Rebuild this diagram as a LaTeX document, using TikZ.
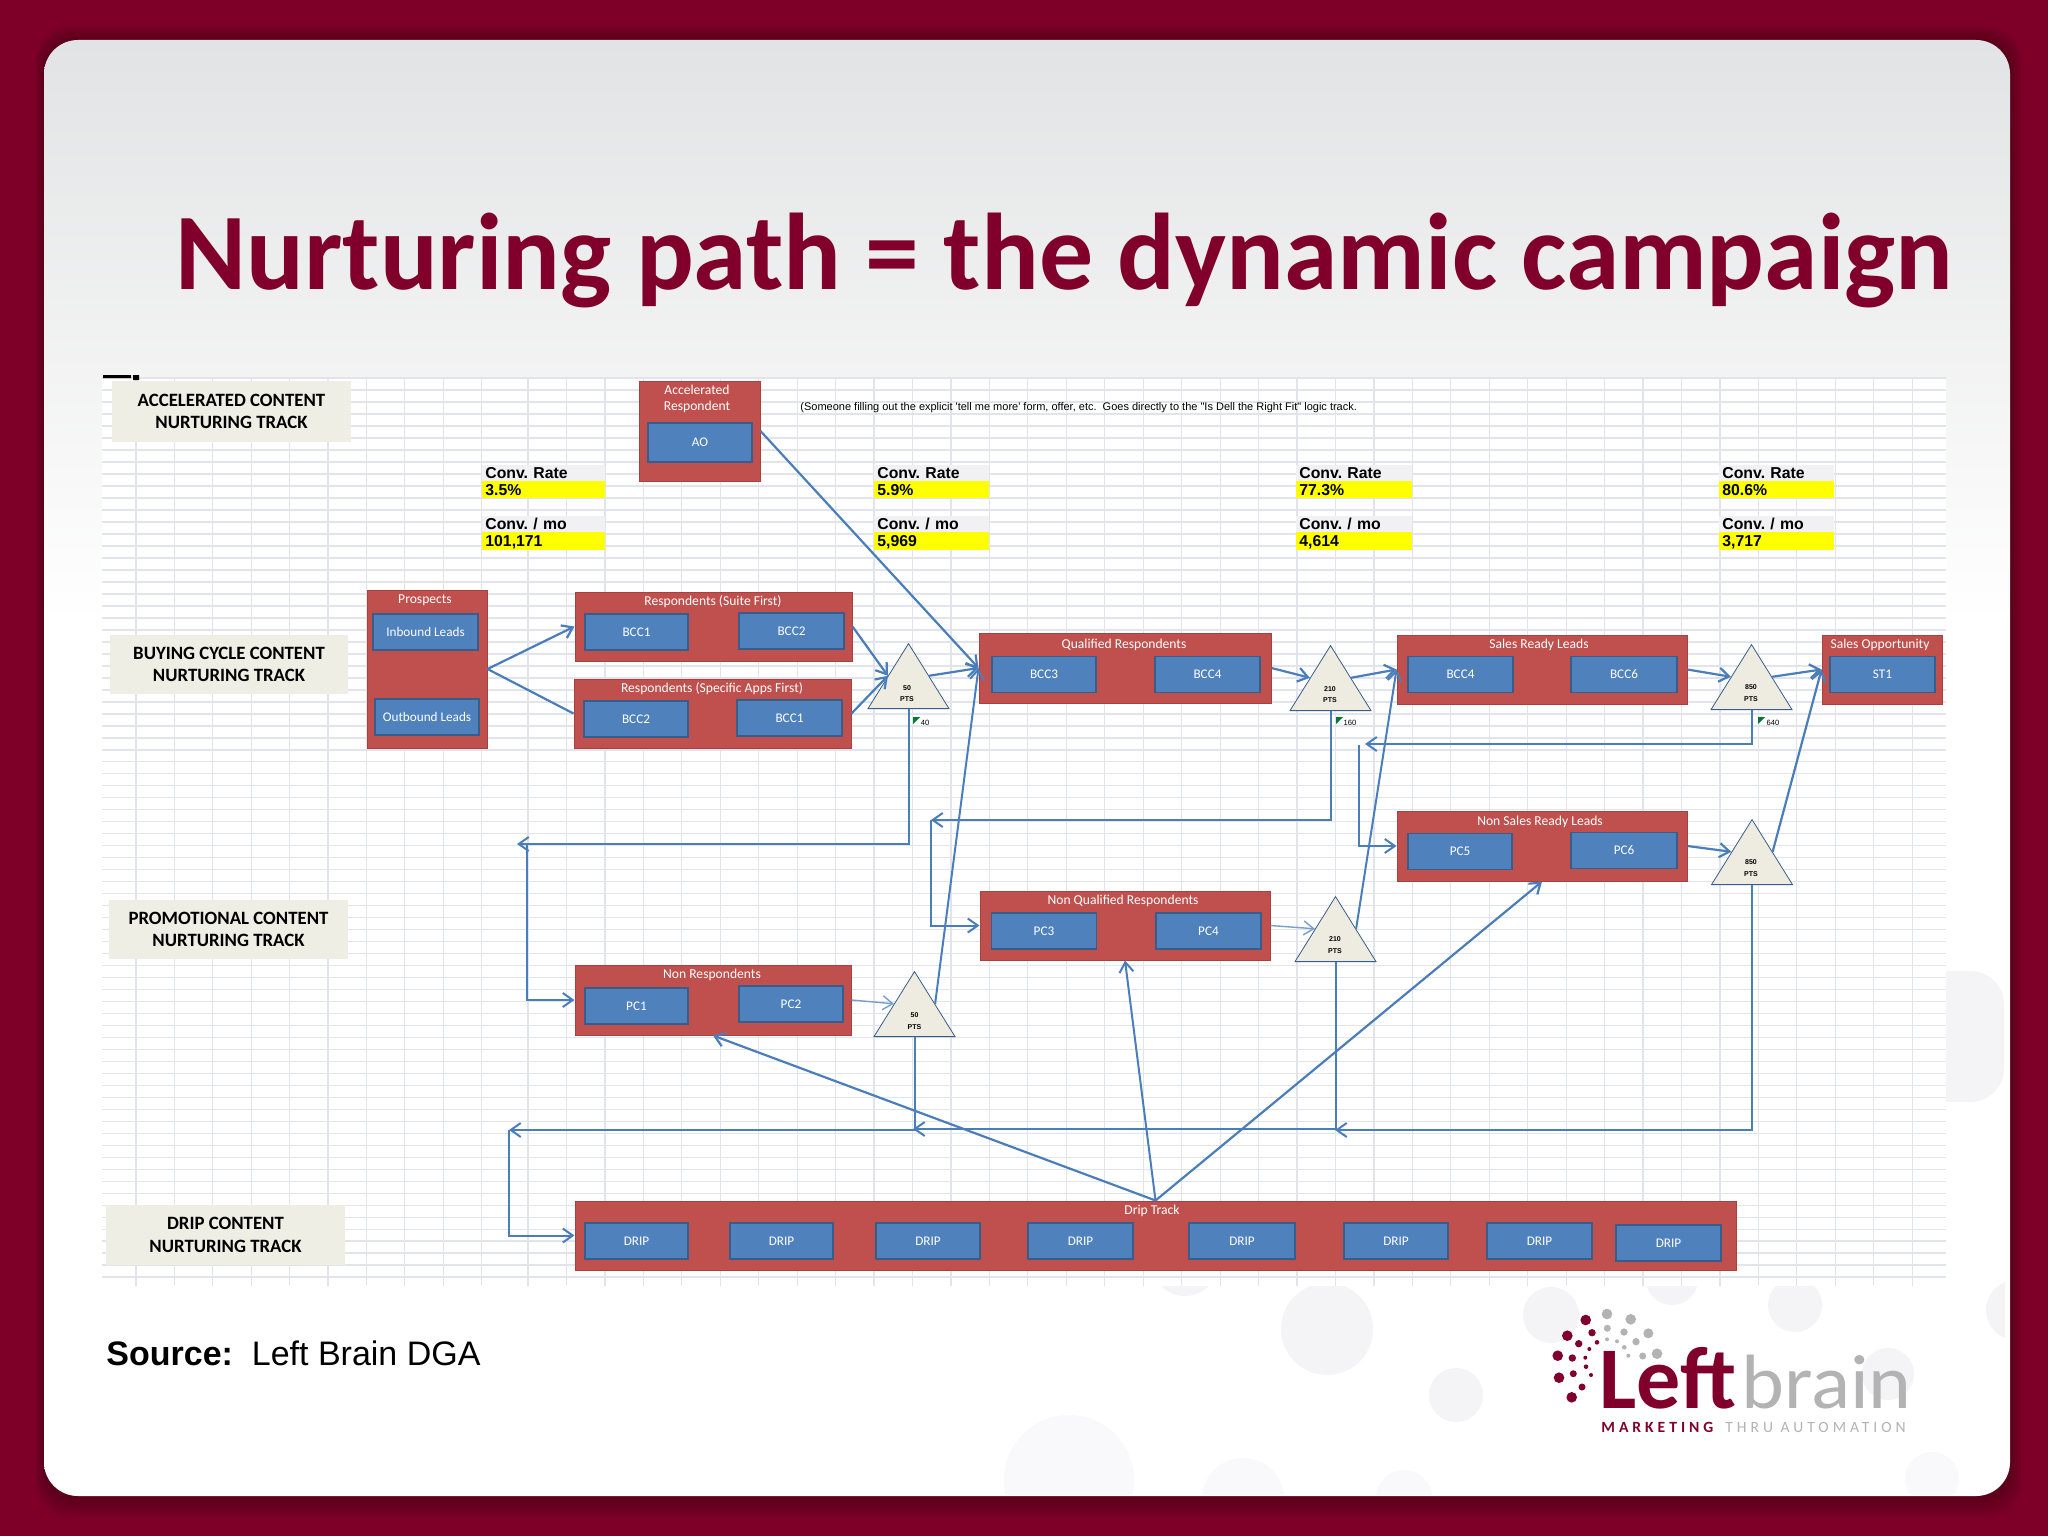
\documentclass[tikz,border=0pt]{standalone}
\usepackage{fontspec}
\setmainfont{Carlito}
\newfontfamily\arialfont{Liberation Sans}
\usetikzlibrary{arrows.meta,shapes.geometric}
\definecolor{slidebg}{HTML}{7E0029}
\definecolor{titlered}{HTML}{80002B}
\definecolor{panelgray}{HTML}{E2E3E4}
\definecolor{blobgray}{HTML}{F4F3F5}
\definecolor{blobpale}{HTML}{F9F8FA}
\definecolor{gridgray}{HTML}{E2E4EC}
\definecolor{trackfill}{HTML}{EEEEE4}
\definecolor{redfill}{HTML}{C0504D}
\definecolor{redline}{HTML}{A9403D}
\definecolor{bluefill}{HTML}{4F81BD}
\definecolor{blueline}{HTML}{385D8A}
\definecolor{flowblue}{HTML}{4A7EBB}
\definecolor{trifill}{HTML}{EEECE1}
\definecolor{convgray}{HTML}{F1F1F3}
\definecolor{convyellow}{HTML}{FFFF00}
\definecolor{markgreen}{HTML}{007A33}
\definecolor{logogray}{HTML}{B3B3B3}
\pgfdeclareverticalshading{panelshade}{100bp}{color(0bp)=(white); color(55bp)=(white); color(75bp)=(panelgray); color(100bp)=(panelgray)}
\tikzset{
    wh/.style 2 args={minimum width=#1*0.5pt,minimum height=#2*0.5pt},
    redbox/.style={draw=redline,fill=redfill,line width=0.5pt,inner sep=0pt},
    bluebox/.style={draw=blueline,fill=bluefill,line width=0.7pt,inner sep=0pt,text=white,font=\fontsize{6.6pt}{8pt}\selectfont},
    boxtitle/.style={text=white,inner sep=0pt,align=center,font=\fontsize{6.8pt}{8pt}\selectfont},
    trackbox/.style={fill=trackfill,inner sep=0pt,align=center,font=\bfseries\fontsize{9.4pt}{11.2pt}\selectfont},
    ptstri/.style={draw=blueline,fill=trifill,line width=0.4pt,shape=isosceles triangle,shape border rotate=90,
        isosceles triangle stretches,minimum height=32.5pt,minimum width=40.5pt,inner sep=0pt,anchor=lower side},
    ptstext/.style={inner sep=0pt,align=center,font=\arialfont\bfseries\fontsize{3.5pt}{5.8pt}\selectfont},
    smalltext/.style={inner sep=0pt,font=\arialfont\fontsize{3.8pt}{4pt}\selectfont},
    notetext/.style={inner sep=0pt,font=\arialfont\fontsize{5.5pt}{6pt}\selectfont},
    convhead/.style={fill=convgray,anchor=west,inner xsep=1.5pt,inner ysep=0pt,text width=#1,minimum height=8pt,text depth=0pt,font=\arialfont\bfseries\frenchspacing\fontsize{7.9pt}{8pt}\selectfont},
    convvalue/.style={convhead=#1,fill=convyellow,minimum height=8.7pt},
    flow/.style={draw=flowblue,line width=1.1pt},
    retflow/.style={draw=flowblue,line width=1pt},
    thinflow/.style={draw=flowblue!75!white,line width=0.7pt},
}
\begin{document}
\begin{tikzpicture}[x=0.5pt,y=-0.5pt,>={Straight Barb[length=5pt,width=7pt]}]
        %% Slide
        \fill[slidebg] (0,0) rectangle (2048,1536);
        \useasboundingbox (0,0) rectangle (2048,1536);
        \foreach \s in {0,...,7}
            \fill[black,opacity=0.04,rounded corners=17pt] (44-\s*1.3,40-\s*2) rectangle (2010+\s*1.8,1496+\s*3.2);
        \shade[shading=panelshade,rounded corners=17pt] (44,40) rectangle (2010,1496);
        %% Faint circles
        \begin{scope}
            \clip[rounded corners=17pt] (44,40) rectangle (2005,1495);
            \fill[blobgray] (1185,1263) circle (33) (1327,1329) circle (46) (1456,1395) circle (27)
                (1551,1315) circle (28) (1672,1279) circle (26) (1795,1305) circle (27)
                (1888,1374) circle (26) (2016,1310) circle (30);
            \fill[blobpale] (1069,1480) circle (65) (1243,1499) circle (41) (1404,1498) circle (28)
                (1932,1479) circle (27);
            \fill[blobgray,rounded corners=17pt] (1900,971) rectangle (2004,1102);
        \end{scope}
        %% Worksheet
        \fill[white] (102,377) rectangle (1946,1286);
        \foreach \gy in {0,...,75}
            \draw[gridgray,line width=0.8pt] (102,378+\gy*11.99) -- (1946,378+\gy*11.99);
        \foreach \gx in {136,174.4,...,483,528,566.45,...,1946}
            \draw[gridgray,line width=0.6pt] (\gx,377) -- (\gx,1286);
        \fill[black] (103,375) rectangle (131,378) (133,375) rectangle (139,380);
        %% Title
        \node[anchor=base west,inner sep=0pt,text=titlered,xscale=0.989,font=\bfseries\fontsize{54.5pt}{60pt}\selectfont] (title) at (175,289) {Nurturing path = the dynamic campaign};
        %% Tracks
        \node[trackbox,wh={239}{61}] (accelerated) at (231.5,411.5) {ACCELERATED CONTENT\\NURTURING TRACK};
        \node[trackbox,wh={238}{59}] (buying) at (229,664.5) {BUYING CYCLE  CONTENT\\NURTURING TRACK};
        \node[trackbox,wh={239}{59}] (promotional) at (228.5,929.5) {PROMOTIONAL CONTENT\\NURTURING TRACK};
        \node[trackbox,wh={239}{60}] (driptrack) at (225.5,1235) {DRIP CONTENT\\NURTURING TRACK};
        %% Note
        \node[notetext,anchor=west] (note) at (800,408) {(Someone filling out the explicit 'tell me more' form, offer, etc.~~Goes directly to the "Is Dell the Right Fit" logic track.};
        %% Conversion figures
        \node[convhead=58.5pt] (ratea) at (482,473) {Conv. Rate};
        \node[convvalue=58.5pt] (ratevala) at (482,489.5) {3.5\%};
        \node[convhead=58.5pt] (moa) at (482,524) {Conv. / mo};
        \node[convvalue=58.5pt] (movala) at (482,541) {101,171};
        \node[convhead=54.5pt] (rateb) at (874,473) {Conv. Rate};
        \node[convvalue=54.5pt] (ratevalb) at (874,489.5) {5.9\%};
        \node[convhead=54.5pt] (mob) at (874,524) {Conv. / mo};
        \node[convvalue=54.5pt] (movalb) at (874,541) {5,969};
        \node[convhead=55pt] (ratec) at (1296,473) {Conv. Rate};
        \node[convvalue=55pt] (ratevalc) at (1296,489.5) {77.3\%};
        \node[convhead=55pt] (moc) at (1296,524) {Conv. / mo};
        \node[convvalue=55pt] (movalc) at (1296,541) {4,614};
        \node[convhead=54.5pt] (rated) at (1719,473) {Conv. Rate};
        \node[convvalue=54.5pt] (ratevald) at (1719,489.5) {80.6\%};
        \node[convhead=54.5pt] (mod) at (1719,524) {Conv. / mo};
        \node[convvalue=54.5pt] (movald) at (1719,541) {3,717};
        %% Accelerated
        \node[redbox,wh={121}{100}] (accel) at (699.5,431) {};
        \node[boxtitle] (acceltitle) at (697,399) {Accelerated\\Respondent};
        \node[bluebox,wh={104}{39}] (ao) at (700,442.5) {AO};
        %% Prospects
        \node[redbox,wh={120}{158}] (prospects) at (427,669) {};
        \node[boxtitle] (prospectstitle) at (425,600) {Prospects};
        \node[bluebox,wh={105}{36}] (inbound) at (425.5,632) {Inbound Leads};
        \node[bluebox,wh={104}{36}] (outbound) at (427,717) {Outbound Leads};
        %% Respondents
        \node[redbox,wh={277}{69}] (suite) at (713.5,626.5) {};
        \node[boxtitle] (suitetitle) at (713,602) {Respondents (Suite First)};
        \node[bluebox,wh={103}{36}] (suitea) at (636.5,632) {BCC1};
        \node[bluebox,wh={105}{36}] (suiteb) at (791.5,631) {BCC2};
        \node[redbox,wh={277}{69}] (specific) at (712.5,713.5) {};
        \node[boxtitle] (specifictitle) at (712,689) {Respondents (Specific Apps First)};
        \node[bluebox,wh={104}{36}] (specifica) at (636,719) {BCC2};
        \node[bluebox,wh={105}{36}] (specificb) at (789.5,718) {BCC1};
        %% Qualified
        \node[redbox,wh={292}{70}] (qualified) at (1125,668) {};
        \node[boxtitle] (qualifiedtitle) at (1124,645) {Qualified Respondents};
        \node[bluebox,wh={104}{36}] (qualifieda) at (1044,674.5) {BCC3};
        \node[bluebox,wh={105}{36}] (qualifiedb) at (1207.5,674.5) {BCC4};
        %% Sales ready
        \node[redbox,wh={290}{69}] (salesready) at (1542,669.5) {};
        \node[boxtitle] (salesreadytitle) at (1539,645) {Sales Ready Leads};
        \node[bluebox,wh={105}{36}] (salesreadya) at (1460.5,674.5) {BCC4};
        \node[bluebox,wh={106}{36}] (salesreadyb) at (1624,674.5) {BCC6};
        %% Opportunity
        \node[redbox,wh={120}{69}] (salesopp) at (1882,669.5) {};
        \node[boxtitle] (salesopptitle) at (1880,645) {Sales Opportunity};
        \node[bluebox,wh={105}{36}] (stone) at (1882.5,674.5) {ST1};
        %% Non respondents
        \node[redbox,wh={276}{70}] (nonresp) at (713,1000) {};
        \node[boxtitle] (nonresptitle) at (712,975) {Non Respondents};
        \node[bluebox,wh={103}{36}] (nonrespa) at (636.5,1006) {PC1};
        \node[bluebox,wh={104}{36}] (nonrespb) at (791,1004) {PC2};
        %% Non qualified
        \node[redbox,wh={290}{69}] (nonqual) at (1125,925.5) {};
        \node[boxtitle] (nonqualtitle) at (1123,901) {Non Qualified Respondents};
        \node[bluebox,wh={105}{36}] (nonquala) at (1044,931) {PC3};
        \node[bluebox,wh={105}{36}] (nonqualb) at (1208.5,931) {PC4};
        %% Non sales ready
        \node[redbox,wh={290}{70}] (nonsales) at (1542,846) {};
        \node[boxtitle] (nonsalestitle) at (1540,822) {Non Sales Ready Leads};
        \node[bluebox,wh={104}{36}] (nonsalesa) at (1460,851.5) {PC5};
        \node[bluebox,wh={106}{36}] (nonsalesb) at (1624,850.5) {PC6};
        %% Drip
        \node[redbox,wh={1161}{69}] (drip) at (1155.5,1235.5) {};
        \node[boxtitle] (driptitle) at (1152,1211) {Drip Track};
        \node[bluebox,wh={103}{36}] (dripa) at (636.5,1241) {DRIP};
        \node[bluebox,wh={103}{36}] (dripb) at (781.5,1241) {DRIP};
        \node[bluebox,wh={104}{36}] (dripc) at (928,1241) {DRIP};
        \node[bluebox,wh={105}{36}] (dripd) at (1080.5,1241) {DRIP};
        \node[bluebox,wh={106}{36}] (dripe) at (1242,1241) {DRIP};
        \node[bluebox,wh={104}{36}] (dripf) at (1396,1241) {DRIP};
        \node[bluebox,wh={105}{36}] (dripg) at (1539.5,1241) {DRIP};
        \node[bluebox,wh={105}{36}] (driph) at (1668.5,1243) {DRIP};
        %% Points
        \node[ptstri] (ptsa) at (908.5,709) {};
        \node[ptstext] (ptsatext) at (907,693.5) {50\\PTS};
        \node[ptstri] (ptsb) at (1330.5,711) {};
        \node[ptstext] (ptsbtext) at (1330,694.5) {210\\PTS};
        \node[ptstri] (ptsc) at (1751.5,710) {};
        \node[ptstext] (ptsctext) at (1751,693) {850\\PTS};
        \node[ptstri] (ptsd) at (914.5,1037) {};
        \node[ptstext] (ptsdtext) at (914.5,1021) {50\\PTS};
        \node[ptstri] (ptse) at (1335.5,962) {};
        \node[ptstext] (ptsetext) at (1335,945) {210\\PTS};
        \node[ptstri] (ptsf) at (1752,885) {};
        \node[ptstext] (ptsftext) at (1751,868) {850\\PTS};
        %% Markers
        \fill[markgreen] (913,717) -- ++(7,0) -- ++(-7,7) -- cycle;
        \node[smalltext] (marka) at (925,723) {40};
        \fill[markgreen] (1336,717) -- ++(7,0) -- ++(-7,7) -- cycle;
        \node[smalltext] (markb) at (1350,723) {160};
        \fill[markgreen] (1758,717) -- ++(7,0) -- ++(-7,7) -- cycle;
        \node[smalltext] (markc) at (1773,723) {640};
        %% Return ends
        \coordinate (reta) at (517,844);
        \coordinate (retb) at (527,844);
        \coordinate (retc) at (931,820);
        \coordinate (retd) at (1365,744);
        \coordinate (rete) at (1359,745);
        \coordinate (retf) at (1335,1130);
        \coordinate (retg) at (913,1129);
        \coordinate (reth) at (509,1130);
        %% Forward
        \draw[flow,->] (prospects.east) -- (suite.west);
        \draw[flow] (prospects.east) -- (specific.west);
        \draw[flow,->] (suite.east) -- (ptsa.left side);
        \draw[flow,->] (specific.east) -- (ptsa.left side);
        \draw[flow,->] (ptsa.right side) -- (qualified.west);
        \draw[flow,->] (accel.east) -- (qualified.west);
        \draw[flow,->] (qualified.east) -- (ptsb.left side);
        \draw[flow,->] (ptsb.right side) -- (salesready.west);
        \draw[flow,->] (salesready.east) -- (ptsc.left side);
        \draw[flow,->] (ptsc.right side) -- (salesopp.west);
        \draw[flow,->] (nonsales.east) -- (ptsf.left side);
        \draw[flow,->] (ptsf.right side) -- (salesopp.west);
        \draw[thinflow,->] (nonresp.east) -- (ptsd.left side);
        \draw[retflow,->] (ptsd.right side) -- (qualified.west);
        \draw[thinflow,->] (nonqual.east) -- (ptse.left side);
        \draw[retflow,->] (ptse.right side) -- (salesready.west);
        %% Returns
        \draw[retflow,->] (ptsa.lower side) |- (reta);
        \draw[retflow,->] (retb) |- (nonresp.west);
        \draw[retflow,->] (ptsb.lower side) |- (retc);
        \draw[retflow,->] (retc) |- (nonqual.west);
        \draw[retflow,->] (ptsc.lower side) |- (retd);
        \draw[retflow,->] (rete) |- (nonsales.west);
        \draw[retflow,->] (ptsf.lower side) |- (retf);
        \draw[retflow,->] (ptse.lower side) |- (retg);
        \draw[retflow,->] (ptsd.lower side) |- (reth);
        \draw[retflow,->] (reth) |- (drip.west);
        %% Drip exits
        \draw[flow,->] (drip.north) -- (nonresp.south);
        \draw[retflow,->] (drip.north) -- (nonqual.south);
        \draw[flow,->] (drip.north) -- (nonsales.south);
        %% Source
        \node[anchor=base west,inner sep=0pt,font=\arialfont\fontsize{17pt}{20pt}\selectfont] (source) at (106,1365) {\textbf{Source:}~~Left Brain DGA};
        %% Logo
        \fill[titlered] (1585.7,1320) circle (5.3) (1567.3,1335.7) circle (5.3) (1592,1332.7) circle (3.7)
            (1578.7,1343.7) circle (3.7) (1597,1342.3) circle (2.3) (1589.3,1349) circle (2)
            (1557.7,1355.7) circle (5.3) (1572.3,1358) circle (3.7) (1585.3,1357.7) circle (2)
            (1586,1366.7) circle (2.3) (1559,1377.7) circle (5.3) (1573.3,1373.7) circle (3.5)
            (1591,1375) circle (2) (1582,1387) circle (3.5) (1571.7,1397.3) circle (5.3);
        \fill[logogray] (1607,1314) circle (5.3) (1630.7,1319.3) circle (5.3) (1607.3,1328.3) circle (3.5)
            (1624,1332) circle (3.7) (1648.3,1333.3) circle (5) (1607,1339.3) circle (2)
            (1617,1341.3) circle (2) (1636,1341.7) circle (3.7) (1624.3,1347.3) circle (2.3)
            (1657,1353.7) circle (5.3) (1642.7,1356) circle (3.5) (1628.3,1355.7) circle (2);
        \node[anchor=base west,inner sep=0pt,text=titlered,font=\bfseries\fontsize{44pt}{46pt}\selectfont] (logoleft) at (1599,1408) {Left};
        \node[anchor=base west,inner sep=0pt,text=logogray,xscale=1.06,font=\fontsize{38.5pt}{42pt}\selectfont] (logobrain) at (1741,1408) {brain};
        \node[anchor=base west,inner sep=0pt,font=\fontsize{7.8pt}{9pt}\selectfont\addfontfeatures{LetterSpace=25.5}] (logotag) at (1601,1432) {\textcolor{titlered}{\bfseries MARKETING}\hspace{6pt}\textcolor{logogray}{THRU AUTOMATION}};
    \end{tikzpicture}
\end{document}
